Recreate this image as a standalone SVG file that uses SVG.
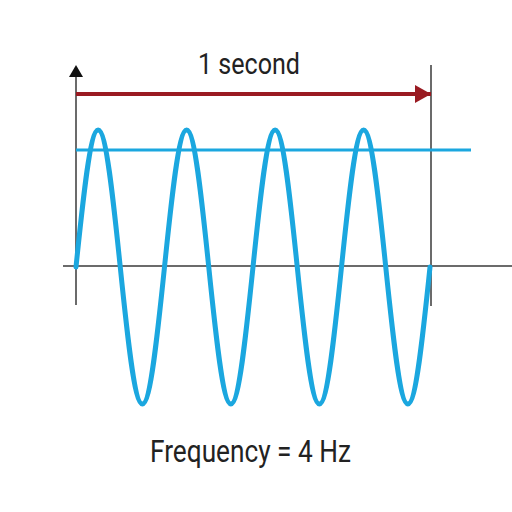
<svg xmlns="http://www.w3.org/2000/svg" width="512" height="512" viewBox="0 0 512 512">
<style>
.axis{stroke:#6b6b6b;stroke-width:2;fill:none}
.wave{stroke:#1ba7df;stroke-width:5;fill:none;stroke-linejoin:round;stroke-linecap:round}
.level{stroke:#1ba7df;stroke-width:3;fill:none}
.span{stroke:#9a1b22;stroke-width:4;fill:none}
.lbl{font-family:Roboto,"Liberation Sans",sans-serif;fill:#222}
</style>
<defs>
<marker id="ah" markerUnits="userSpaceOnUse" markerWidth="16" markerHeight="18" refX="16" refY="9" orient="auto">
<path d="M0,0 L16,9 L0,18 Z" fill="#9a1b22"/>
</marker>
</defs>
<rect width="512" height="512" fill="#fff"/>
<g id="connectors">
<line class="axis" x1="76" y1="74" x2="76" y2="305"/>
<path d="M76,65 L83,77 L69,77 Z" fill="#111"/>
<line class="axis" x1="63" y1="266" x2="512" y2="266"/>
<line class="axis" x1="431" y1="65" x2="431" y2="306"/>
<line class="span" x1="76" y1="94" x2="431" y2="94" marker-end="url(#ah)"/>
<line class="level" x1="76" y1="150" x2="471" y2="150"/>
</g>
<g id="wave">
<path class="wave" d="M76,267 c7.215,-70.18 14.117,-137 22.125,-137 s14.91,66.82 22.125,137 s14.117,137 22.125,137 s14.91,-66.82 22.125,-137 s14.117,-137 22.125,-137 s14.91,66.82 22.125,137 s14.117,137 22.125,137 s14.91,-66.82 22.125,-137 s14.117,-137 22.125,-137 s14.91,66.82 22.125,137 s14.117,137 22.125,137 s14.91,-66.82 22.125,-137 s14.117,-137 22.125,-137 s14.91,66.82 22.125,137 s14.117,137 22.125,137 s14.91,-66.82 22.125,-137"/>
</g>
<g id="label-second">
<text class="lbl" x="249" y="74" font-size="29" text-anchor="middle" textLength="102" lengthAdjust="spacingAndGlyphs">1 second</text>
</g>
<g id="label-frequency">
<text class="lbl" x="250.5" y="462" font-size="31" text-anchor="middle" textLength="201" lengthAdjust="spacingAndGlyphs">Frequency = 4 Hz</text>
</g>
</svg>
